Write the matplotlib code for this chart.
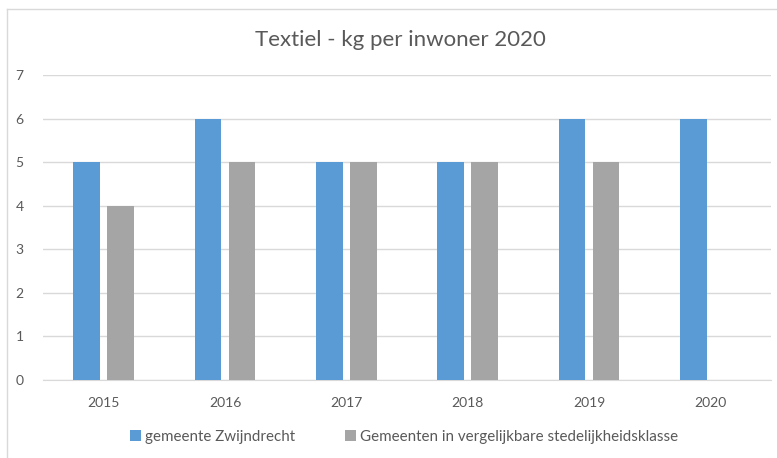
import matplotlib
matplotlib.use("Agg")
import matplotlib.pyplot as plt
import numpy as np
from matplotlib.lines import Line2D

years = ["2015", "2016", "2017", "2018", "2019", "2020"]
zwijndrecht = [5, 6, 5, 5, 6, 6]
vergelijkbaar = [4, 5, 5, 5, 5, np.nan]
series_names = ["gemeente Zwijndrecht", "Gemeenten in vergelijkbare stedelijkheidsklasse"]

plt.rcParams['font.family'] = ['Lato', 'DejaVu Sans']
txt = '#595959'

W, H = 777, 458
fig = plt.figure(figsize=(W/100, H/100), dpi=100)
# chart border (only top and left visible in the crop)
fig.lines.append(Line2D([7/W, 1], [1 - 8.5/H, 1 - 8.5/H], transform=fig.transFigure,
                        color='#D9D9D9', linewidth=1))
fig.lines.append(Line2D([7/W, 7/W], [0, 1 - 8.5/H], transform=fig.transFigure,
                        color='#D9D9D9', linewidth=1))

left, right, top, bottom = 43, 771, 75, 380
ax = fig.add_axes([left/W, 1 - bottom/H, (right - left)/W, (bottom - top)/H])
x = np.arange(len(years))
bw = 0.22
off = 0.14
ax.bar(x - off, zwijndrecht, bw, color='#5B9BD5', label=series_names[0], zorder=3)
ax.bar(x + off, vergelijkbaar, bw, color='#A5A5A5', label=series_names[1], zorder=3)

ax.set_xlim(-0.5, len(years) - 0.5)
ax.set_ylim(0, 7)
ax.set_yticks(range(0, 8))
ax.set_xticks(x)
ax.set_xticklabels(years)
ax.yaxis.grid(True, color='#D9D9D9', linewidth=1, zorder=0)
for s in ['top', 'right', 'left']:
    ax.spines[s].set_visible(False)
ax.spines['bottom'].set_color('#D9D9D9')
ax.tick_params(axis='both', length=0, colors=txt, labelsize=10)
ax.tick_params(axis='y', pad=14)
ax.tick_params(axis='x', pad=12)

fig.text(400/W, 1 - 40/H, "Textiel - kg per inwoner 2020", ha='center', va='center',
         fontsize=16, color=txt)

leg = fig.legend(loc='center', bbox_to_anchor=(404/W, 1 - 437/H), ncol=2, frameon=False,
                 fontsize=10.9, handlelength=0.75, handleheight=0.75, handletextpad=0.25,
                 columnspacing=3.3)
for t in leg.get_texts():
    t.set_color(txt)

fig.savefig("out.png", dpi=100)
